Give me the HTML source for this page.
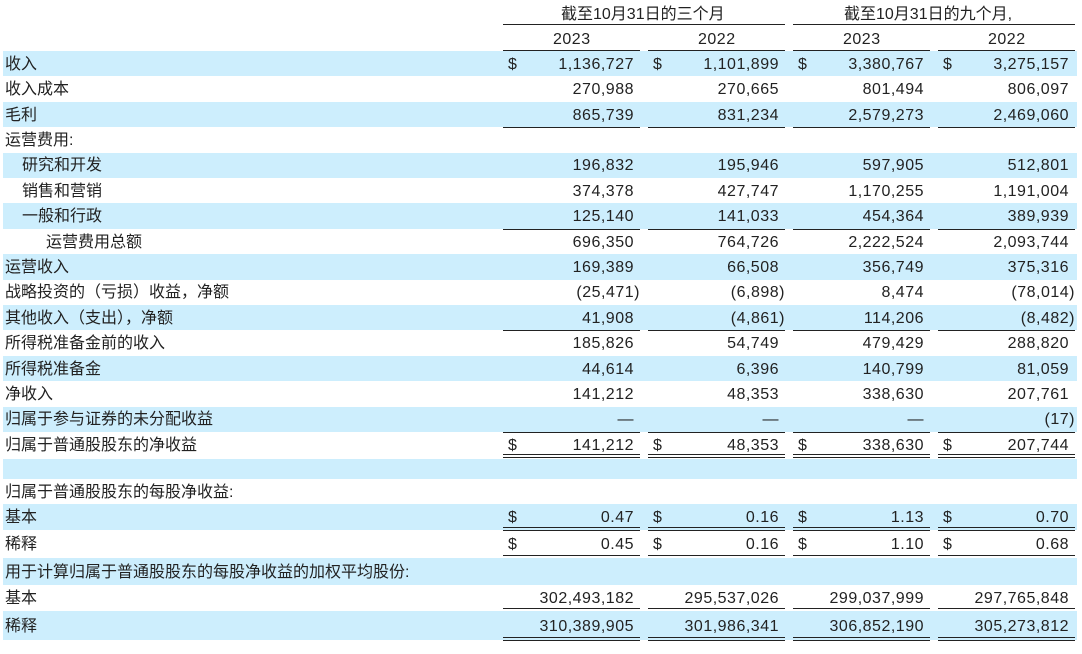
<!DOCTYPE html>
<html><head><meta charset="utf-8">
<style>
html,body{margin:0;padding:0;background:#fff;}
#t{position:relative;width:1082px;height:654px;overflow:hidden;font-family:"Liberation Sans","Noto Sans CJK SC",sans-serif;font-size:16px;color:#222;}
.bg{position:absolute;left:3px;width:1074px;background:#cdeefd;}
.tx{position:absolute;white-space:nowrap;line-height:18px;}
.num{letter-spacing:0.5px;}
.ln{position:absolute;height:1px;background:#222;}
</style></head>
<body>
<div id="t">
 <div class="tx" style="left:561px;top:6px">截至10月31日的三个月</div>
 <div class="tx" style="left:844px;top:6px">截至10月31日的九个月,</div>
 <div class="ln" style="left:503px;top:24px;width:282px"></div>
 <div class="ln" style="left:793px;top:24px;width:282px"></div>
 <div class="tx num" style="left:553px;top:31px">2023</div>
 <div class="tx num" style="left:698px;top:31px">2022</div>
 <div class="tx num" style="left:843px;top:31px">2023</div>
 <div class="tx num" style="left:988px;top:31px">2022</div>
</div>
<script>
const labels=["收入","收入成本","毛利","运营费用:","研究和开发","销售和营销","一般和行政","运营费用总额","运营收入","战略投资的（亏损）收益，净额","其他收入（支出），净额","所得税准备金前的收入","所得税准备金","净收入","归属于参与证券的未分配收益","归属于普通股股东的净收益","","归属于普通股股东的每股净收益:","基本","稀释","用于计算归属于普通股股东的每股净收益的加权平均股份:","基本","稀释"];
const col1=["1,136,727","270,988","865,739","","196,832","374,378","125,140","696,350","169,389","(25,471)","41,908","185,826","44,614","141,212","—","141,212","","","0.47","0.45","","302,493,182","310,389,905"];
const col2=["1,101,899","270,665","831,234","","195,946","427,747","141,033","764,726","66,508","(6,898)","(4,861)","54,749","6,396","48,353","—","48,353","","","0.16","0.16","","295,537,026","301,986,341"];
const col3=["3,380,767","801,494","2,579,273","","597,905","1,170,255","454,364","2,222,524","356,749","8,474","114,206","479,429","140,799","338,630","—","338,630","","","1.13","1.10","","299,037,999","306,852,190"];
const col4=["3,275,157","806,097","2,469,060","","512,801","1,191,004","389,939","2,093,744","375,316","(78,014)","(8,482)","288,820","81,059","207,761","(17)","207,744","","","0.70","0.68","","297,765,848","305,273,812"];
const dollarRows=[0,15,18,19];
const indents={4:17,5:17,6:17,7:41};
const lineBelow={1:1,2:1,6:1,7:1,10:1,14:1,15:2,18:2,19:2,21:2,22:2};
const t=document.getElementById('t');
const tops=[];const hs=[];
for(let i=0;i<16;i++){tops.push(51+25.4*i);hs.push(25.4);}
const extra=[[459,20],[479,25],[504,26],[530,28],[558,27],[585,26],[611,29]];
extra.forEach(e=>{tops.push(e[0]);hs.push(e[1]);});
const blue=[0,2,4,6,8,10,12,14,16,18,20,22];
const cols=[col1,col2,col3,col4];
const colL=[503,648,793,938];
labels.forEach((lab,i)=>{
  const top=tops[i],h=hs[i];
  if(blue.includes(i)){
    const b=document.createElement('div');b.className='bg';
    b.style.top=top+'px';b.style.height=h+'px';
    
    
    t.appendChild(b);
  }
  const ty=top+h/2-8;
  if(lab){
    const d=document.createElement('div');d.className='tx';
    d.style.left=(5+(indents[i]||0))+'px';d.style.top=ty+'px';d.textContent=lab;
    
    
    t.appendChild(d);
  }
  cols.forEach((c,j)=>{
    const v=c[i];
    if(dollarRows.includes(i)){
      const s=document.createElement('div');s.className='tx';
      s.style.left=(colL[j]+5)+'px';s.style.top=ty+'px';s.textContent='$';
      
      
      t.appendChild(s);
    }
    if(v){
      const d=document.createElement('div');d.className='tx num';
      const paren=v.endsWith(')');
      d.style.right=(1082-(colL[j]+131)-(paren?6:0))+'px';d.style.top=ty+'px';d.textContent=v;
      
      
      t.appendChild(d);
    }
    const lb=lineBelow[i];
    if(lb){
      const y=Math.round(top+h)-(lb===2?3:0);
      for(let k=0;k<lb;k++){
        const l=document.createElement('div');l.className='ln';
        l.style.left=colL[j]+'px';l.style.width='137px';l.style.top=(y+k*3)+'px';
        
        
        t.appendChild(l);
      }
    }
  });
  if(i===0){
    colL.forEach(x=>{const l=document.createElement('div');l.className='ln';l.style.left=x+'px';l.style.width='137px';l.style.top='50px';
    
    
    t.appendChild(l);});
  }
});
</script>
</body></html>
